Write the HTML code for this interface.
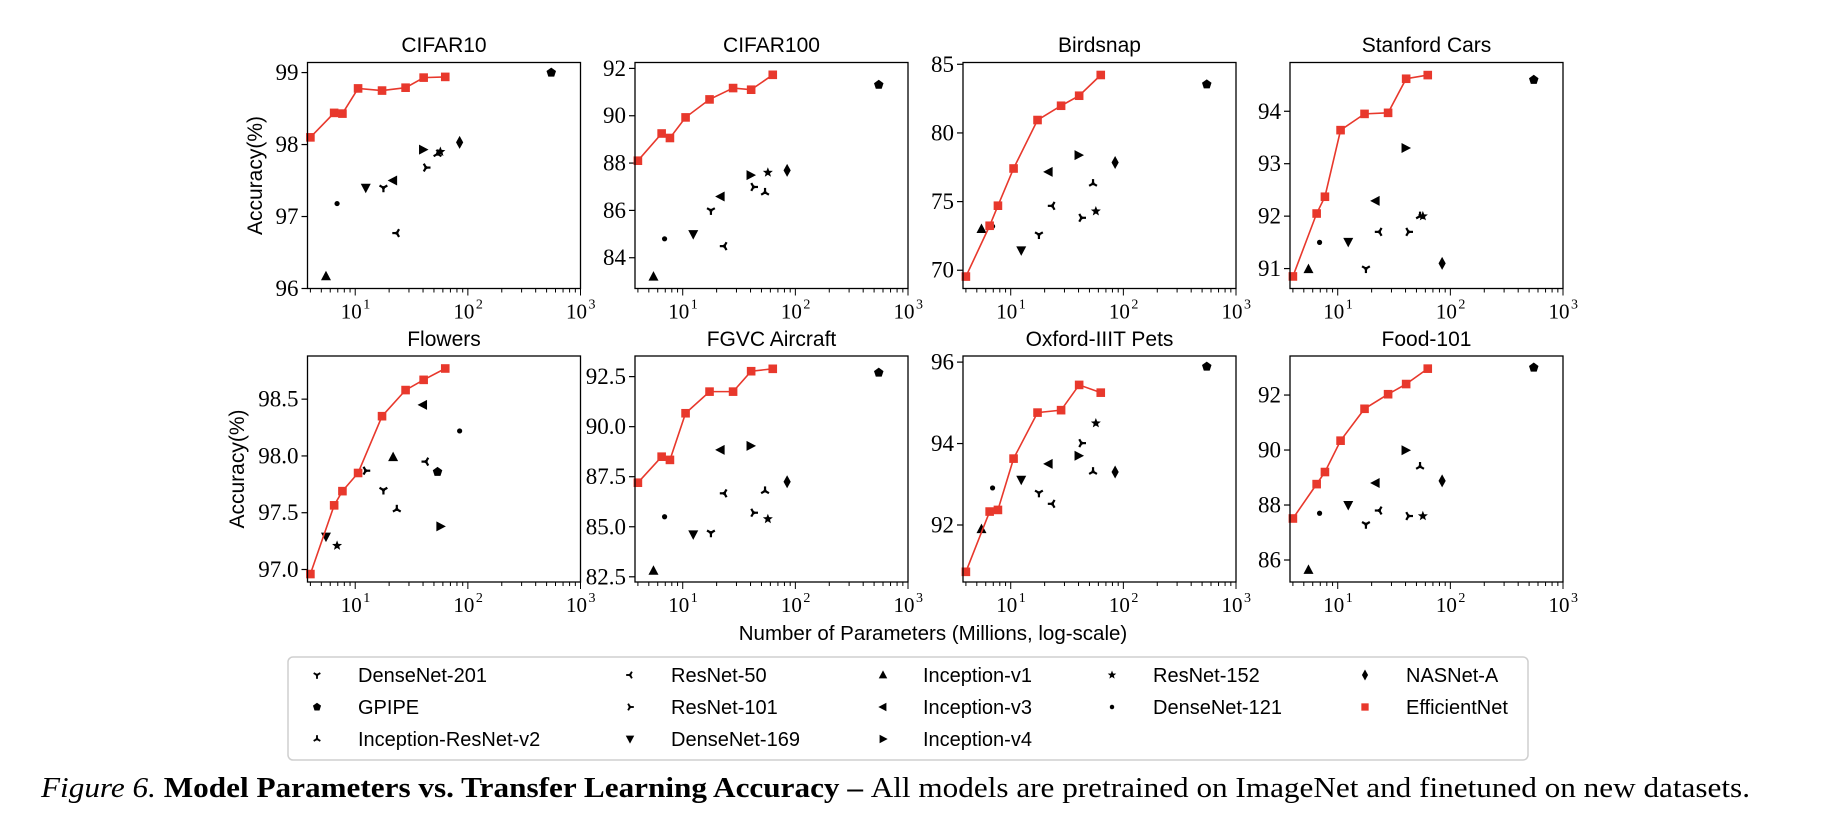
<!DOCTYPE html>
<html><head><meta charset="utf-8"><style>
html,body{margin:0;padding:0;background:#fff;}
svg{display:block;}
.serif{font-family:"Liberation Serif",serif;}
.sans{font-family:"Liberation Sans",sans-serif;}
</style></head><body>
<svg id="fig" width="1830" height="822" viewBox="0 0 1830 822" xmlns="http://www.w3.org/2000/svg">
<rect width="1830" height="822" fill="#fff"/>
</svg>
<script>
// ---------- data ----------
const panelTitles = ["CIFAR10","CIFAR100","Birdsnap","Stanford Cars","Flowers","FGVC Aircraft","Oxford-IIIT Pets","Food-101"];
const effX = [4, 6.5, 7.7, 10.6, 17.3, 28, 40.5, 63];
const effCifar10 = [98.10,98.44,98.43,98.78,98.75,98.79,98.93,98.94];
const effCifar100 = [88.1,89.25,89.06,89.93,90.69,91.17,91.1,91.73];
const effBirdsnap = [69.54,73.24,74.7,77.41,80.94,81.98,82.71,84.22];
const effCars = [90.85,92.05,92.37,93.64,93.95,93.97,94.62,94.69];
const effFlowers = [96.96,97.565,97.69,97.85,98.35,98.58,98.67,98.77];
const effAircraft = [87.2,88.5,88.34,90.67,91.75,91.75,92.77,92.89];
const effPets = [90.85,92.33,92.37,93.63,94.76,94.82,95.44,95.25];
const effFood = [87.51,88.76,89.2,90.34,91.5,92.03,92.4,92.96];

const modelMarkers = ['1','p','2','3','4','v','^','<','>','*','.','d'];
const modelX = [17.8,550,53.8,23.4,42.5,12.4,5.5,21.7,40,57,6.9,84.5];
const othCifar10 = [97.40,99.0,97.87,96.77,97.68,97.40,96.17,97.50,97.93,97.90,97.18,98.03];
const othCifar100 = [86.0,91.31,86.76,84.49,86.99,85.0,83.2,86.59,87.49,87.6,84.8,87.69];
const othBirdsnap = [72.6,83.54,76.31,74.69,73.82,71.45,73.0,77.16,78.38,74.3,73.2,77.85];
const othCars = [91.0,94.6,92.0,91.7,91.7,91.51,90.99,92.29,93.3,92.0,91.5,91.1];
const othAircraft = [84.7,92.7,86.79,86.67,85.7,84.62,82.8,88.84,89.04,85.39,85.5,87.25];
const othPets = [92.79,95.89,93.31,92.52,94.01,93.11,91.9,93.5,93.7,94.5,92.91,93.3];
const othFood = [87.3,93.0,89.4,87.8,87.6,88.0,85.64,88.8,89.99,87.6,87.7,88.88];
const flowersMarkers = ['v','*','4','1','^','2','<','3','p','>','.'];
const flowersX = [5.5,6.9,12.4,17.8,21.7,23.4,40,42.5,53.8,57,84.5];
const othFlowers = [97.29,97.21,97.87,97.70,97.99,97.53,98.45,97.95,97.86,97.38,98.22];

const yTicksCifar10 = [96,97,98,99];
const yTicksCifar100 = [84,86,88,90,92];
const yTicksBirdsnap = [70,75,80,85];
const yTicksCars = [91,92,93,94];
const yTicksFlowers = [97.0,97.5,98.0,98.5];
const yTicksAircraft = [82.5,85.0,87.5,90.0,92.5];
const yTicksPets = [92,94,96];
const yTicksFood = [86,88,90,92];
const yLimCifar10 = [96.0, 99.14];
const yLimCifar100 = [82.7, 92.25];
const yLimBirdsnap = [68.67, 85.13];
const yLimCars = [90.62, 94.93];
const yLimFlowers = [96.89, 98.88];
const yLimAircraft = [82.24, 93.53];
const yLimPets = [90.6, 96.15];
const yLimFood = [85.2, 93.42];
const xTickExps = [1,2,3];
const legendNames = ["DenseNet-201","GPIPE","Inception-ResNet-v2","ResNet-50","ResNet-101","DenseNet-169","Inception-v1","Inception-v3","Inception-v4","ResNet-152","DenseNet-121","NASNet-A","EfficientNet"];
const legendMarkers = ['1','p','2','3','4','v','^','<','>','*','.','d','s'];
const legendCol = [0,0,0,1,1,1,2,2,2,3,3,4,4];
const legendRow = [0,1,2,0,1,2,0,1,2,0,1,0,1];

// ---------- layout ----------
const NS = "http://www.w3.org/2000/svg";
const svg = document.getElementById('fig');
const RED = "#e8382c";
const colLeft = [307.5, 635, 963, 1290];
const rowTop = [62.5, 356];
const PW = 273, PH = 226;
const XMIN = Math.log10(3.77), XMAX = 3;

function el(tag, attrs, parent){
  const e = document.createElementNS(NS, tag);
  for (const k in attrs) e.setAttribute(k, attrs[k]);
  (parent||svg).appendChild(e);
  return e;
}

function drawMarker(g, m, cx, cy, s){
  s = s || 1;
  let e;
  const r = 5*s;
  const tri = (angles, len, w) => {
    const grp = el('g', {}, g);
    angles.forEach(a => {
      const rad = a*Math.PI/180;
      el('line',{x1:cx,y1:cy,x2:cx+len*Math.cos(rad),y2:cy-len*Math.sin(rad),stroke:'#000','stroke-width':w,'stroke-linecap':'butt'},grp);
    });
    el('circle',{cx:cx,cy:cy,r:1.6*s,fill:'#000'},grp);
    return grp;
  };
  const poly = pts => el('polygon',{points:pts.map(p=>p.join(',')).join(' '),fill:'#000'},g);
  switch(m){
    case 's': e = el('rect',{x:cx-4.3*s,y:cy-4.3*s,width:8.6*s,height:8.6*s,fill:RED},g); break;
    case '^': e = poly([[cx,cy-r*1.1],[cx-r,cy+r*0.8],[cx+r,cy+r*0.8]]); break;
    case 'v': e = poly([[cx,cy+r*1.1],[cx-r,cy-r*0.8],[cx+r,cy-r*0.8]]); break;
    case '<': e = poly([[cx-r*1.1,cy],[cx+r*0.8,cy-r],[cx+r*0.8,cy+r]]); break;
    case '>': e = poly([[cx+r*1.1,cy],[cx-r*0.8,cy-r],[cx-r*0.8,cy+r]]); break;
    case 'p': { const pts=[]; for(let i=0;i<5;i++){const a=-Math.PI/2+i*2*Math.PI/5; pts.push([cx+r*Math.cos(a),cy+r*Math.sin(a)]);} e=poly(pts); break; }
    case '*': { const pts=[]; for(let i=0;i<10;i++){const a=-Math.PI/2+i*Math.PI/5; const rr=i%2?r*0.45:r*1.05; pts.push([cx+rr*Math.cos(a),cy+rr*Math.sin(a)]);} e=poly(pts); break; }
    case 'd': e = poly([[cx,cy-6.5*s],[cx+3.6*s,cy],[cx,cy+6.5*s],[cx-3.6*s,cy]]); break;
    case '.': e = el('circle',{cx:cx,cy:cy,r:2.6*s,fill:'#000'},g); break;
    case '1': e = tri([-90,30,150],4.5*s,2.2*s); break;
    case '2': e = tri([90,-30,-150],4.5*s,2.2*s); break;
    case '3': e = tri([180,60,-60],4.5*s,2.2*s); break;
    case '4': e = tri([0,120,-120],4.5*s,2.2*s); break;
  }
  return e;
}

const panels = [
  {eff:effCifar10, oth:othCifar10, mk:modelMarkers, ox:modelX, ticks:yTicksCifar10, lim:yLimCifar10, dec:0},
  {eff:effCifar100, oth:othCifar100, mk:modelMarkers, ox:modelX, ticks:yTicksCifar100, lim:yLimCifar100, dec:0},
  {eff:effBirdsnap, oth:othBirdsnap, mk:modelMarkers, ox:modelX, ticks:yTicksBirdsnap, lim:yLimBirdsnap, dec:0},
  {eff:effCars, oth:othCars, mk:modelMarkers, ox:modelX, ticks:yTicksCars, lim:yLimCars, dec:0},
  {eff:effFlowers, oth:othFlowers, mk:flowersMarkers, ox:flowersX, ticks:yTicksFlowers, lim:yLimFlowers, dec:1},
  {eff:effAircraft, oth:othAircraft, mk:modelMarkers, ox:modelX, ticks:yTicksAircraft, lim:yLimAircraft, dec:1},
  {eff:effPets, oth:othPets, mk:modelMarkers, ox:modelX, ticks:yTicksPets, lim:yLimPets, dec:0},
  {eff:effFood, oth:othFood, mk:modelMarkers, ox:modelX, ticks:yTicksFood, lim:yLimFood, dec:0}
];

panels.forEach((p, i) => {
  const L = colLeft[i%4], row = Math.floor(i/4), T = rowTop[row], B = T+PH;
  const y0 = p.lim[0], y1 = p.lim[1];
  const xs = v => L + (Math.log10(v)-XMIN)/(XMAX-XMIN)*PW;
  const ys = v => B - (v-y0)/(y1-y0)*PH;
  const g = el('g',{});
  
  
  const t = el('text',{x:L+PW/2,y:row?346:52,'text-anchor':'middle','font-size':21,class:'sans'},g);
  t.textContent = panelTitles[i];
  
  
  // y ticks
  p.ticks.forEach(v => {
    const y = ys(v);
    if (y < T-4 || y > B+4) return;
    el('line',{x1:L-6,y1:y,x2:L,y2:y,stroke:'#000','stroke-width':1.2},g);
    const tl = el('text',{x:L-9,y:y+7.5,'text-anchor':'end','font-size':23,class:'serif'},g);
    tl.textContent = v.toFixed(p.dec);
    
    
  });
  // x ticks
  for (let e=0;e<=2;e++){
    for (let k=1;k<=9;k++){
      const v = k*Math.pow(10,e);
      if (v<3.77 || v>1000) continue;
      const x = xs(v);
      el('line',{x1:x,y1:B,x2:x,y2:B+(k===1?7:4),stroke:'#000','stroke-width':1},g);
    }
  }
  el('line',{x1:xs(1000),y1:B,x2:xs(1000),y2:B+7,stroke:'#000','stroke-width':1},g);
  xTickExps.forEach(e => {
    const x = xs(Math.pow(10,e));
    const tl = el('text',{x:x-4,y:B+30,'text-anchor':'middle','font-size':21,class:'serif'},g);
    tl.textContent = '10';
    
    
    const sp = el('text',{x:x+8,y:B+20,'text-anchor':'start','font-size':14,class:'serif'},g);
    sp.textContent = String(e);
  });
  // other models
  p.oth.forEach((v, j) => {
    const m = drawMarker(g, p.mk[j], xs(p.ox[j]), ys(v), 1);
    
    
  });
  // efficientnet
  const pts = p.eff.map((v,j)=>xs(effX[j])+','+ys(v)).join(' ');
  const line = el('polyline',{points:pts,fill:'none',stroke:RED,'stroke-width':1.6},g);
  
  
  p.eff.forEach((v,j)=>{
    const m = drawMarker(g,'s',xs(effX[j]),ys(v),1);
    
    
  });
  // frame
  const fr = el('rect',{x:L,y:T,width:PW,height:PH,fill:'none',stroke:'#000','stroke-width':1.3},g);
  
  
  if (i%4===0){
    const yl = el('text',{x:0,y:0,'text-anchor':'middle','font-size':21,class:'sans',transform:`translate(${row?244:262},${T+PH/2}) rotate(-90)`},g);
    yl.textContent = 'Accuracy(%)';
    
    
  }
});

// x-axis title
const xt = el('text',{x:933,y:640,'text-anchor':'middle','font-size':20.5,class:'sans'});
xt.textContent = 'Number of Parameters (Millions, log-scale)';



// legend
const lg = el('g',{});


el('rect',{x:288,y:657,width:1240,height:103,rx:5,fill:'#fff',stroke:'#cfcfcf','stroke-width':1.5},lg);
const legMX = [317, 630, 883, 1112, 1365];
const legTX = [358, 671, 923, 1153, 1406];
const legRowY = [675, 707, 739];
legendNames.forEach((n, k) => {
  const c = legendCol[k], r = legendRow[k];
  const gi = el('g',{},lg);
  
  
  drawMarker(gi, legendMarkers[k], legMX[c], legRowY[r], 0.85);
  const tx = el('text',{x:legTX[c],y:legRowY[r]+7,'font-size':20,class:'sans'},gi);
  tx.textContent = n;
});

// caption
const cap = el('text',{x:41,y:797,'font-size':28,class:'serif',textLength:1709,lengthAdjust:'spacingAndGlyphs'});


const t1 = el('tspan',{'font-style':'italic'},cap); t1.textContent = 'Figure 6. ';
const t2 = el('tspan',{'font-weight':'bold'},cap); t2.textContent = 'Model Parameters vs. Transfer Learning Accuracy \u2013 ';
const t3 = el('tspan',{},cap); t3.textContent = ' All models are pretrained on ImageNet and finetuned on new datasets.';
</script>
</body></html>
